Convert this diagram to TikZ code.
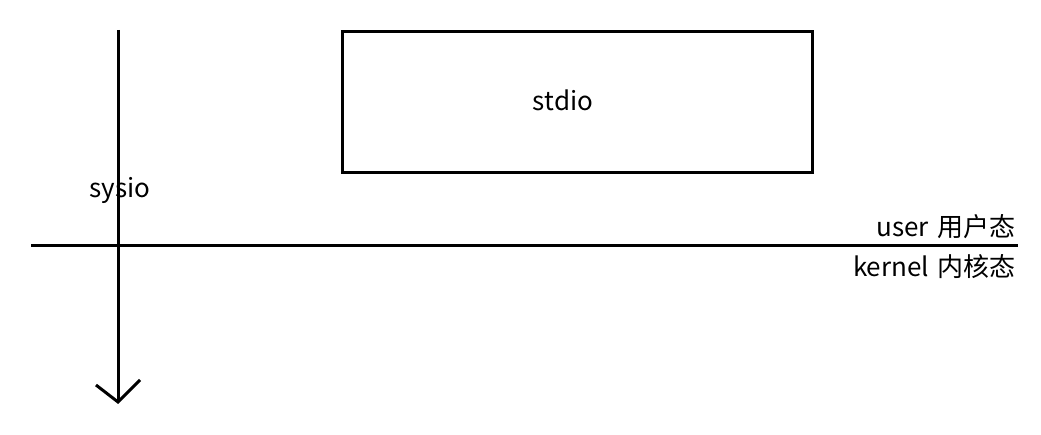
\documentclass[tikz,border=0pt]{standalone}
\usepackage{fontspec}
\setmainfont{Noto Sans CJK SC}
\begin{document}
\begin{tikzpicture}[x=1pt,y=-1pt,
  line/.style={line width=3pt},
  lbl/.style={font=\fontsize{26}{30}\selectfont, inner sep=0pt}]
\useasboundingbox[fill=white] (0,0) rectangle (1041,435);
\node[draw, line width=3pt, minimum width=470pt, minimum height=141pt, inner sep=0pt] (stdio) at (577,102.5) {};
\node[lbl, anchor=base] (stdiotxt) at (563,111) {stdio};
\coordinate (vtop) at (118,30);
\coordinate (vbot) at (118,402);
\draw[line] (vtop) -- (vbot);
\coordinate (ha) at (96,385);
\coordinate (hb) at (140,380);
\draw[line] (ha) -- (vbot) -- (hb);
\coordinate (hl) at (31,246);
\coordinate (hr) at (1018,246);
\draw[line] (hl) -- (hr);
\node[lbl, anchor=base] (sysio) at (120,198) {sysio};
\node[lbl, anchor=base east] (user) at (1016,237) {user\hspace{3pt} 用户态};
\node[lbl, anchor=base east] (kernel) at (1016,277) {kernel\hspace{3pt} 内核态};
\end{tikzpicture}
\end{document}
